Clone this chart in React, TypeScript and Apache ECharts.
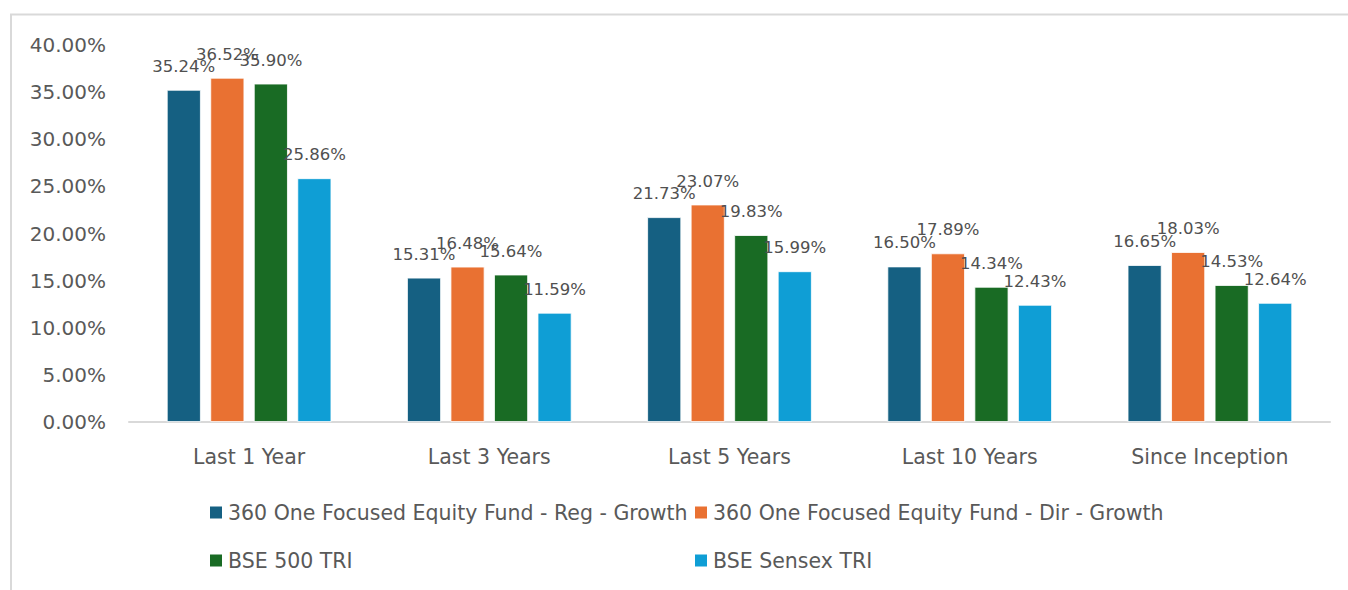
import React, { useEffect, useRef } from "react";
import * as echarts from "echarts";

const categories = ["Last 1 Year", "Last 3 Years", "Last 5 Years", "Last 10 Years", "Since Inception"];
const seriesNames = [
  "360 One Focused Equity Fund - Reg - Growth",
  "360 One Focused Equity Fund - Dir - Growth",
  "BSE 500 TRI",
  "BSE Sensex TRI",
];
const regGrowth = [35.24, 15.31, 21.73, 16.5, 16.65];
const dirGrowth = [36.52, 16.48, 23.07, 17.89, 18.03];
const bse500 = [35.9, 15.64, 19.83, 14.34, 14.53];
const sensex = [25.86, 11.59, 15.99, 12.43, 12.64];
const colors = ["#156082", "#E97132", "#196B24", "#0F9ED5"];

const FONT = "DejaVu Sans";
const TEXT = "#595959";

export default function App() {
  const ref = useRef<HTMLDivElement>(null);
  useEffect(() => {
    if (!ref.current) return;
    const chart = echarts.init(ref.current, undefined, { renderer: "svg" });
    const values = [regGrowth, dirGrowth, bse500, sensex];
    const legendPos = [
      { left: 208, top: 502 },
      { left: 693, top: 502 },
      { left: 208, top: 550 },
      { left: 693, top: 550 },
    ];
    chart.setOption({
      animation: false,
      backgroundColor: "#ffffff",
      textStyle: { fontFamily: FONT },
      graphic: [
        {
          type: "rect",
          shape: { x: 11, y: 14.5, width: 1400, height: 700 },
          style: { fill: "none", stroke: "#d9d9d9", lineWidth: 2 },
          silent: true,
        },
      ],
      grid: { left: 129, right: 18, top: 45, bottom: 168, containLabel: false },
      legend: seriesNames.map((n, i) => ({
        data: [n],
        left: legendPos[i].left,
        top: legendPos[i].top,
        padding: 0,
        icon: "rect",
        itemWidth: 14,
        itemHeight: 14,
        selectedMode: false,
        textStyle: { color: TEXT, fontSize: 20.5, fontFamily: FONT },
      })),
      xAxis: {
        type: "category",
        data: categories,
        axisLine: { lineStyle: { color: "#d9d9d9", width: 2 } },
        axisTick: { show: false },
        axisLabel: { color: TEXT, fontSize: 20.5, fontFamily: FONT, margin: 24 },
      },
      yAxis: {
        type: "value",
        min: 0,
        max: 40,
        interval: 5,
        axisLine: { show: false },
        axisTick: { show: false },
        splitLine: { show: false },
        axisLabel: {
          color: TEXT,
          fontSize: 20,
          fontFamily: FONT,
          margin: 23,
          formatter: (v: number) => v.toFixed(2) + "%",
        },
      },
      series: seriesNames.map((n, i) => ({
        name: n,
        type: "bar",
        data: values[i],
        barWidth: 34,
        barGap: "28%",
        itemStyle: { color: colors[i], borderColor: "#ffffff", borderWidth: 0.8 },
        label: {
          show: true,
          position: "top",
          distance: 15,
          color: "#505050",
          fontSize: 16.5,
          fontFamily: FONT,
          formatter: (p: any) => p.value.toFixed(2) + "%",
        },
      })),
    });
    return () => chart.dispose();
  }, []);
  return (
    <div
      ref={ref}
      style={{ position: "fixed", left: 0, top: 0, width: 1348, height: 590, background: "#fff" }}
    />
  );
}
